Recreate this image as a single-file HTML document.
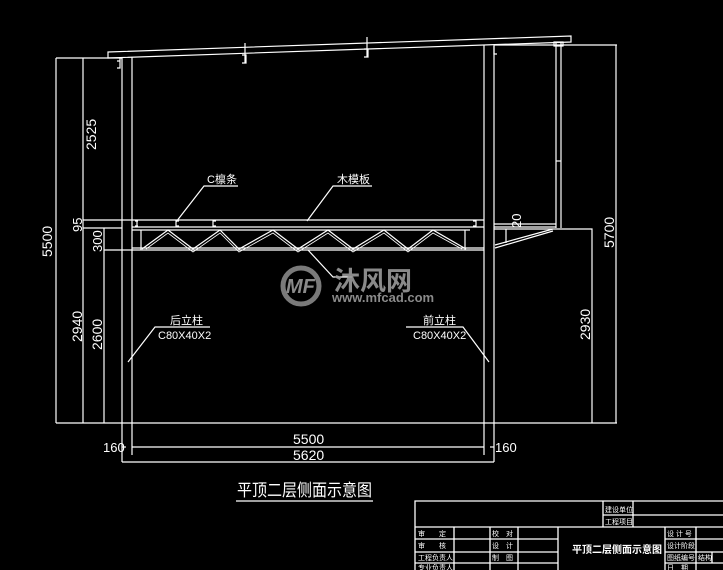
<!DOCTYPE html>
<html><head><meta charset="utf-8"><style>
html,body{margin:0;padding:0;background:#000;}
svg{display:block;}
text{fill:#fff;font-family:"Liberation Sans","Noto Sans CJK SC",sans-serif;}
</style></head><body>
<svg width="723" height="570" viewBox="0 0 723 570" xmlns="http://www.w3.org/2000/svg">
<g stroke="#fff" stroke-width="1.2" fill="none">
<!-- roof -->
<polygon points="108,52 571,36 571,42 108,58"/>
<!-- purlins on roof -->
<path d="M120,58 v10 h-3 M117,61 h3"/>
<path d="M245,43 v20 M242,55 h4 v8 h-4"/>
<path d="M367,37 v20 M364,49 h4 v8 h-4"/>
<!-- left column -->
<line x1="122" y1="58" x2="122" y2="462"/>
<line x1="132" y1="57" x2="132" y2="455"/>
<!-- right column -->
<line x1="484" y1="45" x2="484" y2="455"/>
<line x1="494" y1="45" x2="494" y2="462"/>
<path d="M494,46 v8 h3"/>
<!-- right extension -->
<line x1="494" y1="45" x2="617" y2="45"/>
<line x1="556" y1="43" x2="556" y2="228"/>
<line x1="561" y1="43" x2="561" y2="228"/>
<line x1="556" y1="161" x2="561" y2="161"/>
<rect x="554" y="42" width="9" height="4"/>
<line x1="494" y1="224" x2="556" y2="224"/>
<line x1="494" y1="227" x2="556" y2="227"/>
<polyline points="494,229 592,229 592,423"/>
<line x1="506" y1="229" x2="506" y2="243"/>
<line x1="495" y1="245" x2="553" y2="229"/>
<line x1="495" y1="248" x2="553" y2="231"/>
<!-- deck -->
<line x1="83" y1="220" x2="484" y2="220"/>
<line x1="83" y1="228" x2="122" y2="228"/>
<line x1="132" y1="227" x2="484" y2="227"/>
<line x1="132" y1="230" x2="470" y2="230"/>
<line x1="132" y1="248" x2="484" y2="248"/>
<line x1="104" y1="250" x2="484" y2="250"/>
<line x1="141" y1="230" x2="141" y2="250"/>
<line x1="465" y1="230" x2="465" y2="250"/>
<polyline points="142,249 168,230 193,249 220,230 239,249 273,230 298,249 328,230 353,249 384,230 408,249 433,230 466,249"/>
<polyline points="146,249 168,233 193,252 220,233 239,252 273,233 298,252 328,233 353,252 384,233 408,252 433,233 462,249" stroke-width="0.8"/>
<path d="M137,220 v7 M135,221 h3 M135,226 h3"/>
<path d="M176,220 v7 M176,221 h3 M176,226 h3"/>
<path d="M213,220 v7 M213,221 h3 M213,226 h3"/>
<path d="M476,220 v7 M473,221 h3 M473,226 h3"/>
<!-- left dims -->
<line x1="56" y1="58" x2="56" y2="423"/>
<line x1="83" y1="58" x2="83" y2="423"/>
<line x1="104" y1="228" x2="104" y2="423"/>
<line x1="56" y1="58" x2="122" y2="58"/>
<line x1="56" y1="423" x2="592" y2="423"/>
<line x1="616" y1="45" x2="616" y2="423"/>
<line x1="592" y1="423" x2="617" y2="423"/>
<!-- bottom dims -->
<line x1="132" y1="447" x2="484" y2="447"/>
<line x1="122" y1="447" x2="126" y2="447"/>
<line x1="490" y1="447" x2="494" y2="447"/>
<line x1="122" y1="462" x2="494" y2="462"/>
<!-- leaders -->
<polyline points="176,222 204,186 238,186"/>
<polyline points="307,221 333,186 372,186"/>
<polyline points="308,250 333,277 352,277"/>
<polyline points="128,362 155,327 210,327"/>
<polyline points="489,362 463,327 406,327"/>
<!-- title underline -->
<line x1="236" y1="501" x2="373" y2="501"/>
</g>
<!-- watermark -->
<g fill="#888" opacity="0.9">
<circle cx="301" cy="286" r="18" fill="none" stroke="#888" stroke-width="5"/>
<text x="286" y="293" font-size="20" font-weight="bold" style="fill:#999;font-style:italic">MF</text>
<text x="334" y="290" font-size="26" font-weight="bold" style="fill:#999">沐风网</text>
<text x="332" y="302" font-size="13" font-weight="bold" style="fill:#999">www.mfcad.com</text>
</g>
<!-- labels -->
<g font-size="13">
<text transform="translate(96,150) rotate(-90)" font-size="14">2525</text>
<text transform="translate(82,232) rotate(-90)">95</text>
<text transform="translate(102,252) rotate(-90)">300</text>
<text transform="translate(52,257) rotate(-90)" font-size="14">5500</text>
<text transform="translate(82,342) rotate(-90)" font-size="14">2940</text>
<text transform="translate(102,350) rotate(-90)" font-size="14">2600</text>
<text transform="translate(614,248) rotate(-90)" font-size="14">5700</text>
<text transform="translate(590,340) rotate(-90)" font-size="14">2930</text>
<text transform="translate(521,228) rotate(-90)">20</text>
<text x="103" y="452">160</text>
<text x="495" y="452">160</text>
<text x="293" y="444" font-size="14">5500</text>
<text x="293" y="460" font-size="14">5620</text>
<text x="207" y="183" font-size="11">C檩条</text>
<text x="337" y="183" font-size="11">木模板</text>
<text x="170" y="324" font-size="11">后立柱</text>
<text x="158" y="339" font-size="11">C80X40X2</text>
<text x="423" y="324" font-size="11">前立柱</text>
<text x="413" y="339" font-size="11">C80X40X2</text>
<text x="237" y="496" font-size="17" textLength="135" lengthAdjust="spacingAndGlyphs">平顶二层侧面示意图</text>
</g>
<!-- title block -->
<g stroke="#fff" stroke-width="1.3" fill="none">
<polyline points="415,570 415,501 723,501"/>
<line x1="603" y1="515" x2="723" y2="515"/>
<line x1="415" y1="527" x2="723" y2="527"/>
<line x1="415" y1="539" x2="558" y2="539"/>
<line x1="665" y1="539" x2="723" y2="539"/>
<line x1="415" y1="552" x2="558" y2="552"/>
<line x1="665" y1="552" x2="723" y2="552"/>
<line x1="415" y1="563" x2="558" y2="563"/>
<line x1="665" y1="563" x2="723" y2="563"/>
<line x1="603" y1="501" x2="603" y2="527"/>
<line x1="633" y1="501" x2="633" y2="527"/>
<line x1="454" y1="527" x2="454" y2="570"/>
<line x1="490" y1="527" x2="490" y2="570"/>
<line x1="518" y1="527" x2="518" y2="570"/>
<line x1="558" y1="527" x2="558" y2="570"/>
<line x1="665" y1="527" x2="665" y2="570"/>
<line x1="696" y1="527" x2="696" y2="570"/>
<line x1="712" y1="552" x2="712" y2="563"/>
</g>
<g font-size="7">
<text x="605" y="512">建设单位</text>
<text x="605" y="524">工程项目</text>
<text x="418" y="536">审　　定</text>
<text x="418" y="548">审　　核</text>
<text x="418" y="560">工程负责人</text>
<text x="418" y="570">专业负责人</text>
<text x="492" y="536">校　对</text>
<text x="492" y="548">设　计</text>
<text x="492" y="560">制　图</text>
<text x="667" y="536">设 计 号</text>
<text x="667" y="548">设计阶段</text>
<text x="667" y="560">图纸编号</text>
<text x="698" y="560">结构</text>
<text x="667" y="570">日　期</text>
<text x="572" y="553" font-size="10" font-weight="bold">平顶二层侧面示意图</text>
</g>
</svg>
</body></html>
